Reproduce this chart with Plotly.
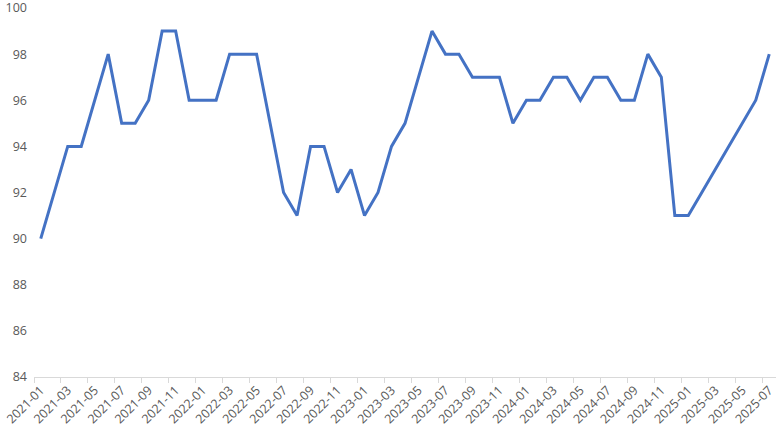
import plotly.graph_objects as go

months = [f"{y}-{m:02d}" for y in range(2021, 2026) for m in range(1, 13)][:55]
values = [90, 92, 94, 94, 96, 98, 95, 95, 96, 99, 99, 96,
          96, 96, 98, 98, 98, 95, 92, 91, 94, 94, 92, 93,
          91, 92, 94, 95, 97, 99, 98, 98, 97, 97, 97, 95,
          96, 96, 97, 97, 96, 97, 97, 96, 96, 98, 97, 91,
          91, 92, 93, 94, 95, 96, 98]

fig = go.Figure(go.Scatter(x=months, y=values, mode="lines",
                           line=dict(color="#4472C4", width=3)))

fig.update_layout(
    width=781, height=430,
    margin=dict(l=34, r=5, t=8, b=53, autoexpand=False),
    plot_bgcolor="white", paper_bgcolor="white",
    showlegend=False,
    font=dict(family="Open Sans", size=12, color="#595959"),
)
fig.update_xaxes(type="category", range=[-0.5, 54.5], dtick=2, tick0=0,
                 tickangle=-45, tickson="boundaries", ticks="outside", ticklen=5,
                 tickcolor="#D9D9D9", showline=True, linecolor="#D9D9D9",
                 linewidth=1, showgrid=False, automargin=False,
                 tickfont=dict(size=12.5, color="#595959"))
fig.update_yaxes(range=[84, 100.0001], tickvals=[84, 86, 88, 90, 92, 94, 96, 98, 100],
                 showgrid=False, zeroline=False, ticklabeloverflow="allow",
                 showline=False, ticks="", ticklabelstandoff=6, automargin=False,
                 tickfont=dict(size=12.5, color="#595959"))

fig.write_html("out.html", config={"displayModeBar": False},
               post_script="document.body.style.margin='0';document.body.style.overflow='hidden';")
